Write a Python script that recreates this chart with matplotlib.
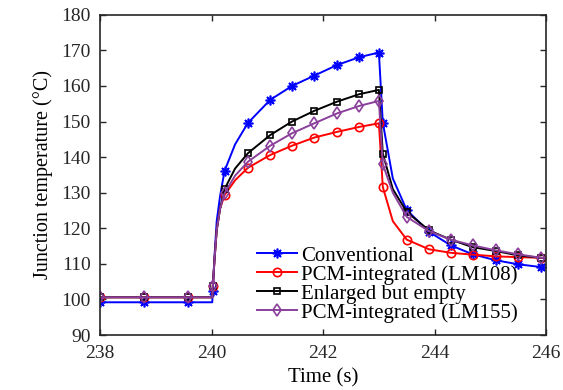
import numpy as np
import matplotlib.pyplot as plt

# sample times (s); markers only at some of them
t = [238.0, 238.78, 239.58, 240.01, 240.02, 240.05, 240.09, 240.15, 240.23,
     240.42, 240.65, 241.05, 241.44, 241.84, 242.25, 242.65, 243.0, 243.07,
     243.25, 243.5, 243.9, 244.29, 244.68, 245.1, 245.49, 245.91, 246.0]
mark_idx = [0, 1, 2, 4, 8, 10, 11, 12, 13, 14, 15, 16, 17,
            19, 20, 21, 22, 23, 24, 25]

conventional = [99.2, 99.2, 99.2, 99.2, 102.5, 112.0, 122.0, 129.0, 136.1,
                143.6, 149.6, 156.1, 160.0, 162.9, 165.9, 168.1, 169.4, 149.7,
                134.0, 125.1, 119.0, 115.2, 112.7, 111.0, 109.9, 109.1, 108.9]
lm108 = [100.6, 100.6, 100.6, 100.6, 103.7, 111.0, 119.5, 125.5, 129.3,
         133.5, 137.0, 140.6, 143.2, 145.5, 147.1, 148.5, 149.5, 131.6,
         122.0, 116.8, 114.1, 113.1, 112.6, 112.1, 111.9, 111.7, 111.7]
empty = [100.6, 100.6, 100.6, 100.6, 103.7, 111.0, 119.5, 125.5, 131.0,
         136.8, 141.1, 146.2, 150.0, 153.0, 155.6, 157.7, 158.9, 141.0,
         131.0, 124.6, 119.4, 116.8, 114.7, 113.6, 112.4, 111.7, 111.6]
lm155 = [100.6, 100.6, 100.6, 100.6, 103.7, 111.0, 119.5, 125.5, 129.8,
         134.8, 138.7, 143.2, 146.7, 149.5, 152.3, 154.4, 155.8, 138.0,
         130.0, 123.2, 119.2, 116.8, 115.2, 113.8, 112.7, 111.7, 111.6]

labels = ['Conventional', 'PCM-integrated (LM108)',
          'Enlarged but empty', 'PCM-integrated (LM155)']

plt.rcParams['font.family'] = ['Liberation Serif', 'DejaVu Serif']

fig = plt.figure(figsize=(5.63, 3.90), dpi=100)
ax = fig.add_axes([0.178, 0.141, 0.792, 0.821])

styles = [
    dict(color='#0000ff', marker=(8, 2, 0), markersize=7),
    dict(color='#ff0000', marker='o', markersize=6),
    dict(color='#000000', marker='s', markersize=5),
    dict(color='#8a3f9a', marker='d', markersize=6),
]
for y, lab, st in zip([conventional, lm108, empty, lm155], labels, styles):
    ax.plot(t, y, label=lab, lw=1.4, markevery=mark_idx,
            markerfacecolor='none', markeredgewidth=1.2, **st)

ax.set_xlim(238, 246)
ax.set_ylim(90, 180)
ax.set_xticks(np.arange(238, 247, 2))
ax.set_yticks(np.arange(90, 181, 10))
ax.tick_params(direction='in', top=True, right=True, labelsize=14,
               length=4, width=1, colors='#262626', pad=7)
for s in ax.spines.values():
    s.set_linewidth(1.2)
    s.set_color('#262626')

ax.set_xlabel('Time (s)', fontsize=15, labelpad=5)
ax.set_ylabel('Junction temperature (°C)', fontsize=14.5, labelpad=6)

ax.legend(loc='upper left', bbox_to_anchor=(257 / 563, 1 - 246 / 390),
          bbox_transform=fig.transFigure, frameon=False, fontsize=15,
          handlelength=1.9, borderaxespad=0, borderpad=0,
          labelspacing=-0.03, handletextpad=0.2)

fig.savefig('out.png', dpi=100)
